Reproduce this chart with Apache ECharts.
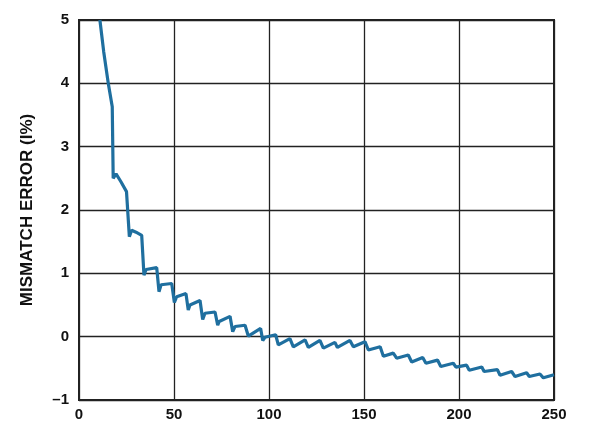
<!DOCTYPE html>
<html><head><meta charset="utf-8">
<script src="https://cdn.jsdelivr.net/npm/echarts@6/dist/echarts.min.js"></script>
<style>html,body{margin:0;padding:0;background:#fff}#c{width:603px;height:424px}</style>
</head><body><div id="c"></div>
<script>
const xValues = [11,13,15.4,17.5,18,19.5,22,25,26,26.5,27.7,30,33,34.2,35.3,40.9,42.1,43.2,48.8,50.2,51.4,56.3,57.5,58.4,63.7,65.1,66.3,71.6,73,73.8,79.5,80.9,82.1,87.4,89.1,95.6,96.7,97.9,103.5,104.9,111,112.8,119,120.7,126.8,128.6,134.7,136,142.6,144.4,150.5,152.3,158.5,160.2,165.4,167.2,173.3,175.1,180.9,182.6,188.7,190.4,197,198.4,204,205.4,212,213.2,220.2,221.6,227.7,229.5,235.6,237,242.6,244.4,250];
const yValues = [5.0,4.5,4.0,3.63,2.5,2.57,2.45,2.29,2.26,1.58,1.68,1.65,1.6,0.97,1.06,1.09,0.71,0.82,0.84,0.54,0.63,0.68,0.42,0.5,0.57,0.27,0.37,0.39,0.18,0.24,0.32,0.08,0.16,0.18,0.01,0.13,-0.06,-0.01,0.03,-0.13,-0.03,-0.16,-0.05,-0.17,-0.06,-0.18,-0.09,-0.17,-0.06,-0.16,-0.08,-0.21,-0.16,-0.31,-0.26,-0.34,-0.29,-0.40,-0.33,-0.42,-0.37,-0.47,-0.42,-0.48,-0.45,-0.53,-0.48,-0.55,-0.52,-0.61,-0.55,-0.63,-0.57,-0.63,-0.59,-0.65,-0.60];
const yAxisName = 'MISMATCH ERROR (I%)';
const series = xValues.map((x, i) => [x, yValues[i]]);
const chart = echarts.init(document.getElementById('c'));
const lab = {color:'#111', fontFamily:'Liberation Sans, Arial', fontWeight:'bold', fontSize:15};
chart.setOption({
  animation:false,
  grid:{left:79,right:49,top:20,bottom:24,show:true,borderColor:'#222',borderWidth:2},
  xAxis:{type:'value',min:0,max:250,interval:50,
    axisLine:{show:false},axisTick:{show:false},
    splitLine:{show:true,lineStyle:{color:'#222',width:1.3}},
    axisLabel:Object.assign({margin:7},lab)},
  yAxis:{type:'value',min:-1,max:5,interval:1,
    name:yAxisName,nameLocation:'middle',nameGap:43,
    nameTextStyle:{color:'#111',fontFamily:'Liberation Sans, Arial',fontWeight:'bold',fontSize:17},
    axisLine:{show:false},axisTick:{show:false},
    splitLine:{show:true,lineStyle:{color:'#222',width:1.3}},
    axisLabel:Object.assign({margin:10,formatter:v=>v<0?'\u2013'+Math.abs(v):String(v)},lab)},
  series:[{type:'line',data:series,showSymbol:false,smooth:false,
    lineStyle:{color:'#1f6f9f',width:3.2},clip:true}]
});
</script></body></html>
